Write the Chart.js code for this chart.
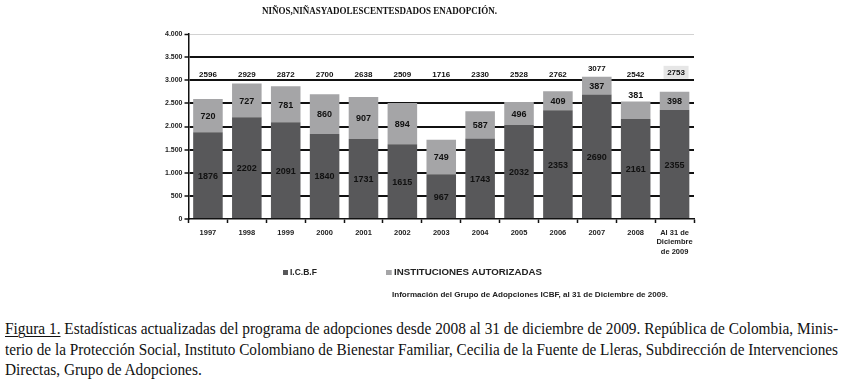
<!DOCTYPE html>
<html>
<head>
<meta charset="utf-8">
<script src="https://cdn.jsdelivr.net/npm/chart.js@4.4.1/dist/chart.umd.min.js"></script>
<style>
  html, body { margin: 0; padding: 0; background: #fff; }
  body { width: 844px; height: 387px; position: relative; overflow: hidden; }
  #wrap { position: absolute; left: 0; top: 0; width: 844px; height: 300px; }
  .abs { position: absolute; white-space: nowrap; }
  #title { font-family: "Liberation Serif", serif; font-weight: bold; font-size: 10px; color: #111; transform-origin: left top; }
  .leg { font-family: "Liberation Sans", Arial, sans-serif; font-weight: bold; font-size: 8.5px; color: #222; transform-origin: left top; }
  .sq { display: inline-block; width: 5px; height: 5px; margin-right: 2px; vertical-align: 0px; }
  .cap { font-family: "Liberation Serif", "Times New Roman", serif; font-size: 16.5px; line-height: 20.5px; color: #111; left: 5px; transform-origin: left top; }
  .cap u { text-decoration-thickness: 1px; text-underline-offset: 2px; }
</style>
</head>
<body>
<div id="wrap"><canvas id="c" width="844" height="300"></canvas></div>
<div id="title" class="abs" style="left:262px; top:5px;">NIÑOS,NIÑASYADOLESCENTESDADOS ENADOPCIÓN.</div>
<div id="leg1" class="abs leg" style="left:283px; top:267px;"><span class="sq" style="background:#58585a"></span>I.C.B.F</div>
<div id="leg2" class="abs leg" style="left:386px; top:267px;"><span class="sq" style="background:#a5a5a7"></span>INSTITUCIONES AUTORIZADAS</div>
<div id="src" class="abs leg" style="left:392px; top:290px; font-size:8px;">Información del Grupo de Adopciones ICBF, al 31 de Diciembre de 2009.</div>
<div id="cap1" class="abs cap" style="top:319px;"><u>Figura 1.</u> Estadísticas actualizadas del programa de adopciones desde 2008 al 31 de diciembre de 2009. República de Colombia, Minis-</div>
<div id="cap2" class="abs cap" style="top:339.5px;">terio de la Protección Social, Instituto Colombiano de Bienestar Familiar, Cecilia de la Fuente de Lleras, Subdirección de Intervenciones</div>
<div id="cap3" class="abs cap" style="top:360px;">Directas, Grupo de Adopciones.</div>
<script>
// ---- Data ----
const categories = ['1997','1998','1999','2000','2001','2002','2003','2004','2005','2006','2007','2008',['Al 31 de','Diciembre','de 2009']];
const icbf = [1876, 2202, 2091, 1840, 1731, 1615, 967, 1743, 2032, 2353, 2690, 2161, 2355];
const instituciones = [720, 727, 781, 860, 907, 894, 749, 587, 496, 409, 387, 381, 398];
const totals = [2596, 2929, 2872, 2700, 2638, 2509, 1716, 2330, 2528, 2762, 3077, 2542, 2753];
const yTicks = [0, 500, 1000, 1500, 2000, 2500, 3000, 3500, 4000];
const seriesNames = ['I.C.B.F', 'INSTITUCIONES AUTORIZADAS'];

// fit text widths
function fitWidth(id, w) {
  const el = document.getElementById(id);
  const nat = el.getBoundingClientRect().width;
  const s = w / nat;
  el.style.transform = 'scaleX(' + s + ')';
  return s;
}
fitWidth('title', 235);
fitWidth('leg2', 156);
fitWidth('src', 276);
const s1 = fitWidth('cap1', 833);
fitWidth('cap2', 833);
document.getElementById('cap3').style.transform = 'scaleX(' + s1 + ')';

const fmt = v => v >= 1000 ? Math.floor(v/1000) + '.' + String(v % 1000).padStart(3, '0') : String(v);

const labelPlugin = {
  id: 'labels',
  afterDatasetsDraw(chart) {
    const ctx = chart.ctx;
    const y = chart.scales.y;
    ctx.save();
    ctx.textAlign = 'center';
    ctx.textBaseline = 'middle';
    ctx.fillStyle = '#111';
    ctx.font = 'bold 9px "Liberation Sans", Arial, sans-serif';
    chart.data.datasets.forEach((ds, di) => {
      const meta = chart.getDatasetMeta(di);
      meta.data.forEach((bar, i) => {
        let cy = (bar.y + bar.base) / 2 + 1;
        if (di === 1 && i === 11) cy = bar.y - 6;
        ctx.fillText(String(ds.data[i]), bar.x, cy);
      });
    });
    // totals row
    const meta0 = chart.getDatasetMeta(0);
    ctx.font = 'bold 8px "Liberation Sans", Arial, sans-serif';
    totals.forEach((t, i) => {
      const x = meta0.data[i].x;
      let ty = y.getPixelForValue(3150) + 1;
      if (i === 10) ty -= 6;
      if (i === 12) {
        ty -= 2;
        ctx.fillStyle = '#e6e6e6';
        ctx.fillRect(x - 11, ty - 6.5, 25, 13);
        ctx.fillStyle = '#111';
      }
      ctx.fillText(String(t), x + (i === 12 ? 1.5 : 0), ty);
    });
    ctx.restore();
  }
};

new Chart(document.getElementById('c'), {
  type: 'bar',
  data: {
    labels: categories,
    datasets: [
      { label: seriesNames[0], data: icbf, backgroundColor: '#58585a', borderWidth: 0, barPercentage: 0.76, categoryPercentage: 1 },
      { label: seriesNames[1], data: instituciones, backgroundColor: '#a5a5a7', borderWidth: 0, barPercentage: 0.76, categoryPercentage: 1 }
    ]
  },
  options: {
    responsive: false,
    devicePixelRatio: 1,
    animation: false,
    layout: { padding: { left: 150, right: 150, top: 34, bottom: 0 } },
    plugins: { legend: { display: false }, tooltip: { enabled: false }, title: { display: false } },
    scales: {
      x: {
        stacked: true,
        offset: true,
        border: { display: true, color: '#111', width: 1.5 },
        grid: { display: true, offset: true, drawOnChartArea: false, drawTicks: true, tickLength: 4, tickColor: '#111', tickWidth: 1.5 },
        ticks: { color: '#222', font: { family: '"Liberation Sans", Arial, sans-serif', size: 7.5, weight: 'bold', lineHeight: 1.25 }, padding: 5, maxRotation: 0, autoSkip: false },
        afterFit(scale) { scale.height = 81; }
      },
      y: {
        stacked: true,
        min: 0, max: 4000,
        afterBuildTicks(scale) { scale.ticks = yTicks.map(v => ({ value: v })); },
        border: { display: true, color: '#111', width: 1.5 },
        grid: {
          drawTicks: true, tickLength: 4, tickColor: '#111', tickWidth: 1.5,
          color: c => c.tick && c.tick.value === 4000 ? '#d2d2d2' : (c.tick && c.tick.value === 0 ? 'rgba(0,0,0,0)' : '#111'),
          lineWidth: c => c.tick && c.tick.value === 4000 ? 1 : 2
        },
        ticks: { color: '#222', font: { family: '"Liberation Sans", Arial, sans-serif', size: 7, weight: 'bold' }, padding: 2, callback: v => fmt(v) },
        afterFit(scale) { scale.width = 38.5; }
      }
    }
  },
  plugins: [labelPlugin]
});
</script>
</body>
</html>
